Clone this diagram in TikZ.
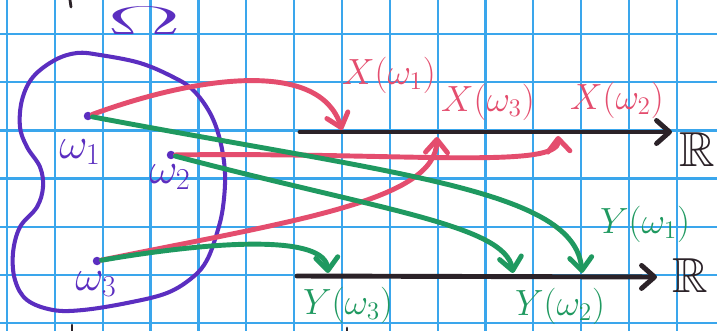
\documentclass[tikz,border=0pt]{standalone}
\usepackage{amssymb}
\usetikzlibrary{arrows.meta}
\definecolor{gridBlue}{HTML}{3AA6EC}
\definecolor{inkPurple}{HTML}{5B2EC0}
\definecolor{inkRed}{HTML}{E44D6E}
\definecolor{inkGreen}{HTML}{1F9960}
\definecolor{inkBlack}{HTML}{2B2228}

\begin{document}
\begin{tikzpicture}[x=0.02cm,y=-0.02cm,
  gridline/.style={gridBlue,line width=1.3pt},
  marker/.style={line width=2.8pt,line cap=round},
  sample/.style={circle,fill=inkPurple,inner sep=0pt,minimum size=0.17cm},
  ptlab/.style={inkPurple,font=\fontsize{26}{30}\selectfont},
  xlab/.style={inkRed,font=\fontsize{20}{24}\selectfont},
  ylab/.style={inkGreen,font=\fontsize{21}{25}\selectfont},
  rlab/.style={inkBlack,font=\fontsize{28}{32}\selectfont},
  realline/.style={marker,inkBlack,-{Straight Barb[length=2.6mm,width=4.6mm,round]}},
  xmap/.style={marker,inkRed,-{Straight Barb[length=2.6mm,width=4.4mm,round]}},
  ymap/.style={marker,inkGreen,-{Straight Barb[length=2.6mm,width=4.4mm,round]}}]

  \useasboundingbox (0,0) rectangle (717,331);
  \fill[white] (0,0) rectangle (717,331);

  % graph paper
  \foreach \gx in {0,...,14}
    \draw[gridline] ({7+47.85*\gx},0) -- ({7+47.85*\gx},331);
  \foreach \gy in {0,...,6}
    \draw[gridline] (0,{34+48.2*\gy}) -- (717,{34+48.2*\gy});

  % stray pen marks
  \draw[inkBlack,line width=1.6pt,line cap=round] (70,0) -- (71,7);
  \draw[inkBlack,line width=1.6pt,line cap=round] (72,325) -- (72,331);
  \draw[inkBlack,line width=1.6pt,line cap=round] (347,328) -- (347,331);

  % sample space
  \node[inkPurple,font=\fontsize{20}{24}\selectfont] (omega) at (144,21) {\scalebox{3}[1.1]{$\Omega$}};
  \draw[inkPurple,line width=2.3pt] plot[smooth cycle,tension=0.6] coordinates {
    (55,60) (77,53) (100,55) (140,63) (173,77) (193,90) (210,113) (220,140)
    (225,173) (223,207) (217,233) (207,260) (193,277) (167,293) (127,303)
    (83,310) (53,310) (27,300) (15,280) (13,253) (20,227) (37,207) (43,187)
    (40,167) (27,147) (20,127) (22,100) (33,77)};

  \node[sample] (w1) at (88,116) {};
  \node[sample] (w2) at (171,155) {};
  \node[sample] (w3) at (97,261) {};
  \node[ptlab] (lw1) at (80,152) {$\omega_1$};
  \node[ptlab] (lw2) at (170,177) {$\omega_2$};
  \node[ptlab] (lw3) at (96,284) {$\omega_3$};

  % the two real lines
  \coordinate (xaxs) at (300,132);
  \coordinate (xaxe) at (672,132);
  \coordinate (yaxs) at (297,276);
  \coordinate (yaxe) at (657,277);
  \node[rlab] (xR) at (697,150) {$\mathbb{R}$};
  \node[rlab] (yR) at (690,276) {$\mathbb{R}$};
  \draw[realline] (xaxs) -- (xaxe);
  \draw[realline] (yaxs) -- (yaxe);

  \coordinate (xw1) at (342,130);
  \coordinate (xw2) at (558,136);
  \coordinate (xw3) at (437,137);
  \coordinate (yw1) at (582,273);
  \coordinate (yw2) at (513,273);
  \coordinate (yw3) at (328,273);

  \node[xlab] (lx1) at (389,75) {$X(\omega_1)$};
  \node[xlab] (lx3) at (488,102) {$X(\omega_3)$};
  \node[xlab] (lx2) at (617,100) {$X(\omega_2)$};
  \node[ylab] (ly1) at (645,224) {$Y(\omega_1)$};
  \node[ylab] (ly3) at (348,305) {$Y(\omega_3)$};
  \node[ylab] (ly2) at (560,306) {$Y(\omega_2)$};

  % X
  \draw[xmap] (w1) .. controls (200,75) and (320,60) .. (xw1);
  \draw[xmap] (w2) .. controls (400,152) and (560,170) .. (xw2);
  \draw[xmap] (w3) .. controls (300,220) and (435,200) .. (xw3);

  % Y
  \draw[ymap] (w1) .. controls (400,175) and (575,190) .. (yw1);
  \draw[ymap] (w2) .. controls (380,210) and (505,225) .. (yw2);
  \draw[ymap] (w3) .. controls (220,240) and (325,235) .. (yw3);
\end{tikzpicture}
\end{document}
